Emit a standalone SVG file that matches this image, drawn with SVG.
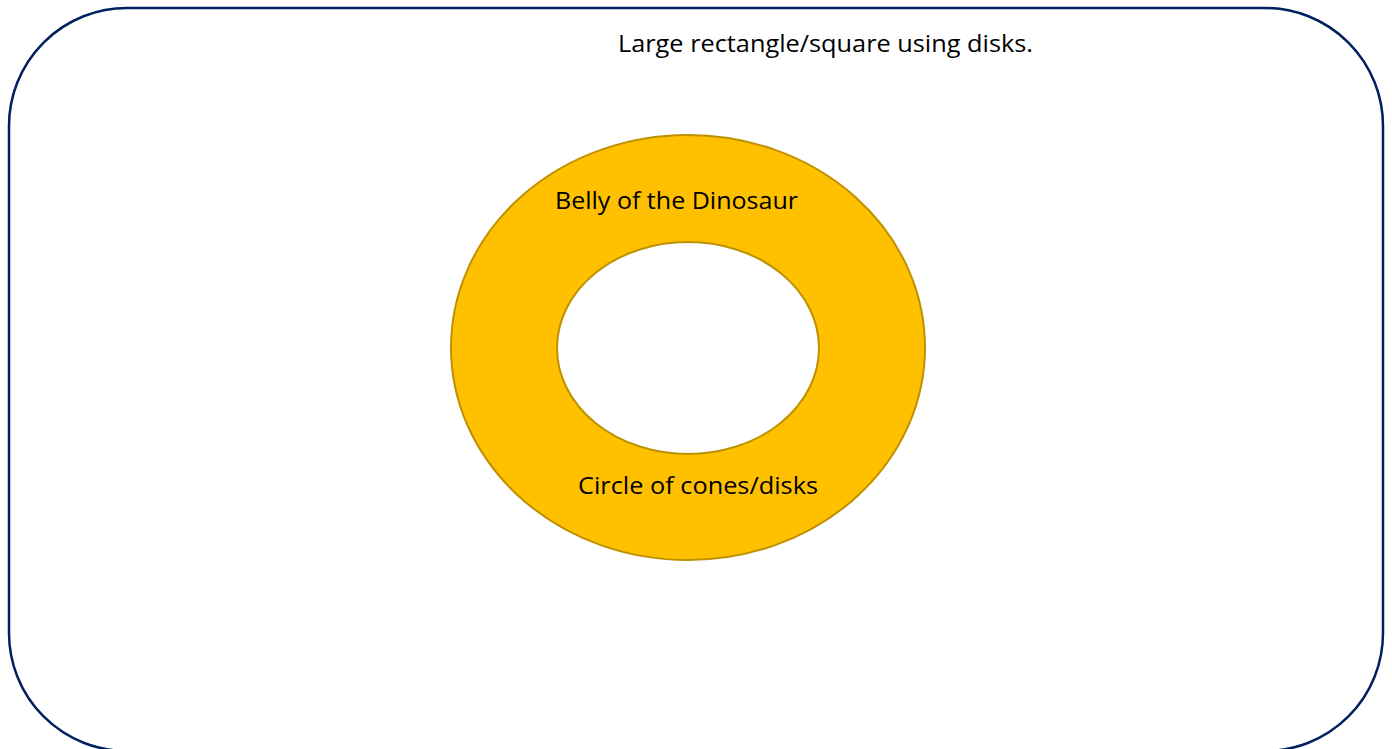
<svg xmlns="http://www.w3.org/2000/svg" width="1392" height="749" viewBox="0 0 1392 749">
  <style>
    .lbl { font-family: "Open Sans", "Liberation Sans", sans-serif; fill: #000000; }
    .ring { fill: #FFC000; stroke: #BF9000; stroke-width: 2; }
    .hole { fill: #FFFFFF; stroke: #BF9000; stroke-width: 2; }
  </style>
  <rect width="1392" height="749" fill="#FFFFFF"/>
  <g id="field">
    <rect x="9" y="8" width="1374" height="743" rx="118" ry="118" fill="none" stroke="#002060" stroke-width="2.5"/>
    <text class="lbl" x="618" y="52" font-size="23" textLength="415" lengthAdjust="spacingAndGlyphs">Large rectangle/square using disks.</text>
  </g>
  <g id="belly">
    <ellipse class="ring" cx="688" cy="347.5" rx="237" ry="212.5"/>
    <ellipse class="hole" cx="688" cy="348" rx="131" ry="106"/>
    <text class="lbl" x="555" y="209" font-size="23" textLength="243" lengthAdjust="spacingAndGlyphs">Belly of the Dinosaur</text>
    <text class="lbl" x="578" y="494" font-size="23" textLength="240" lengthAdjust="spacingAndGlyphs">Circle of cones/disks</text>
  </g>
  <g id="connectors"></g>
</svg>
